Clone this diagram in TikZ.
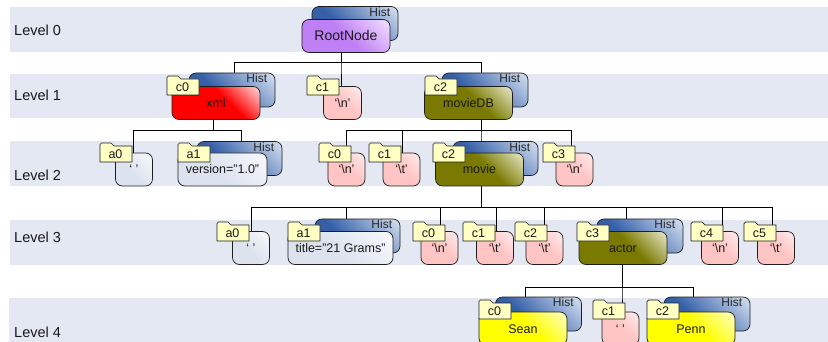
\documentclass[tikz,border=0pt]{standalone}
\usepackage{fontspec}
\setmainfont{Liberation Sans}
\usetikzlibrary{calc}
\pgfdeclarelayer{bands}
\pgfdeclarelayer{wires}
\pgfsetlayers{bands,wires,main}
\definecolor{bandc}{HTML}{E3E8F2}
\definecolor{tagc}{HTML}{FFFFC4}
\definecolor{histb}{HTML}{3560A8}
\definecolor{histh}{HTML}{E2EAF7}
\definecolor{pinkb}{HTML}{FFC4C4}
\definecolor{pinkh}{HTML}{FFF0F0}
\definecolor{attrb}{HTML}{DCE2EE}
\definecolor{attrh}{HTML}{FAFBFD}
\definecolor{oliveb}{HTML}{7A7A00}
\definecolor{oliveh}{HTML}{F4F4E0}
\definecolor{redb}{HTML}{FF0000}
\definecolor{redh}{HTML}{FFF4F4}
\definecolor{yelb}{HTML}{FFFF00}
\definecolor{yelh}{HTML}{FFFFD8}
\definecolor{purb}{HTML}{C080F5}
\definecolor{purh}{HTML}{F6EAFF}
\definecolor{edgec}{HTML}{1E1E1E}
\newcommand{\mkshade}[4]{\pgfdeclareverticalshading{#1}{100bp}{color(0bp)=(#2); color(#4bp)=(#2); color(88bp)=(#3); color(100bp)=(#3)}}
\mkshade{shHist}{histb}{histh}{40}
\mkshade{shPink}{pinkb}{pinkh}{52}
\mkshade{shAttr}{attrb}{attrh}{45}
\mkshade{shOlive}{oliveb}{oliveh}{56}
\mkshade{shRed}{redb}{redh}{58}
\mkshade{shYel}{yelb}{yelh}{55}
\mkshade{shPur}{purb}{purh}{50}
\tikzset{
  hlfill/.style={shade, shading=#1, shading angle=-45},
  box/.style={draw=edgec, line width=0.7pt, rounded corners=7pt, inner sep=0pt,
    text height=9pt, text depth=0pt, font=\fontsize{12.5}{14}\selectfont, text=black!90},
  histback/.style={box, hlfill=shHist, minimum height=34pt},
  histlabel/.style={anchor=north east, inner sep=0pt, font=\fontsize{12}{14}\selectfont, text=black!85},
  bigbox/.style={box, minimum width=88pt, minimum height=33pt},
  smallbox/.style={box, minimum width=37pt, minimum height=33pt},
  tagshape/.style={draw=edgec, line width=0.7pt, fill=tagc, line join=round},
  tagtext/.style={inner sep=0pt, font=\fontsize{12.5}{14}\selectfont, text=black!90},
  levellabel/.style={anchor=west, inner sep=0pt, font=\fontsize{14.5}{16}\selectfont, text=black!90},
  band/.style={fill=bandc, draw=none},
  conn/.style={draw=black, line width=1pt}
}
\newcommand{\histbox}[4]{%
  \node[histback, minimum width=#4pt] (#1) at (#2,#3) {};
  \node[histlabel] (#1t) at ($(#1.north east)+(-8,1)$) {Hist};}
\newcommand{\foldertag}[4]{%
  \filldraw[tagshape] (#2,#3+19) -- (#2,#3+1.5) -- (#2+1.5,#3) -- (#2+11,#3) -- (#2+14,#3+3) -- (#2+32,#3+3) -- (#2+32,#3+19) -- cycle;
  \node[tagtext] (#1) at (#2+15.5,#3+11.5) {#4};}
\begin{document}
\begin{tikzpicture}[x=1pt,y=-1pt]
\useasboundingbox (0,0) rectangle (828,342);
% bands
\begin{pgfonlayer}{bands}
  \fill[band] (10,7) rectangle (828,52);
  \fill[band] (10,74) rectangle (828,118);
  \fill[band] (10,141) rectangle (828,186);
  \fill[band] (10,220) rectangle (828,265);
  \fill[band] (9,298) rectangle (828,350);
\end{pgfonlayer}
\node[levellabel] (lv0) at (14,30) {Level 0};
\node[levellabel] (lv1) at (14,95) {Level 1};
\node[levellabel] (lv2) at (14,175) {Level 2};
\node[levellabel] (lv3) at (14,237) {Level 3};
\node[levellabel] (lv4) at (14,332) {Level 4};

% Level 0
\histbox{rootH}{355}{23.5}{86}
\node[bigbox, hlfill=shPur, font=\fontsize{14}{16}\selectfont, text height=10pt] (root) at (346,36) {RootNode};

% Level 1
\histbox{xmlH}{232}{90}{86}
\node[bigbox, hlfill=shRed] (xml) at (216,103) {xml};
\foldertag{xmlT}{167}{76}{c0}
\node[smallbox, minimum width=38pt, hlfill=shPink] (l1c1) at (342.5,103) {‘\textbackslash n’};
\foldertag{l1c1T}{307}{76}{c1}
\histbox{mdbH}{485}{90}{86}
\node[bigbox, hlfill=shOlive] (mdb) at (468.5,103) {movieDB};
\foldertag{mdbT}{425}{76}{c2}

% Level 2
\node[smallbox, hlfill=shAttr] (l2a0) at (134,169.5) {‘ ’};
\foldertag{l2a0T}{100}{143}{a0}
\histbox{l2a1H}{239.5}{158.5}{85}
\node[bigbox, minimum width=89pt, hlfill=shAttr] (l2a1) at (222.5,169.5) {version="1.0"};
\foldertag{l2a1T}{178}{143}{a1}
\node[smallbox, hlfill=shPink] (l2c0) at (346.5,169.5) {‘\textbackslash n’};
\foldertag{l2c0T}{319}{143}{c0}
\node[smallbox, hlfill=shPink] (l2c1) at (401.5,169.5) {‘\textbackslash t’};
\foldertag{l2c1T}{369}{143}{c1}
\histbox{movieH}{495.5}{158.5}{85}
\node[bigbox, hlfill=shOlive] (movie) at (479.5,169.5) {movie};
\foldertag{movieT}{433}{143}{c2}
\node[smallbox, hlfill=shPink] (l2c3) at (574.5,169.5) {‘\textbackslash n’};
\foldertag{l2c3T}{543}{143}{c3}

% Level 3
\node[smallbox, hlfill=shAttr] (l3a0) at (251,248) {‘ ’};
\foldertag{l3a0T}{217}{222}{a0}
\histbox{l3a1H}{357.5}{236}{85}
\node[bigbox, minimum width=105pt, hlfill=shAttr] (l3a1) at (340.5,248) {title="21 Grams"};
\foldertag{l3a1T}{288}{222}{a1}
\node[smallbox, hlfill=shPink] (l3c0) at (439.5,248) {‘\textbackslash n’};
\foldertag{l3c0T}{413}{222}{c0}
\node[smallbox, hlfill=shPink] (l3c1) at (495,248) {‘\textbackslash t’};
\foldertag{l3c1T}{463}{222}{c1}
\node[smallbox, hlfill=shPink] (l3c2) at (544.5,248) {‘\textbackslash t’};
\foldertag{l3c2T}{515}{222}{c2}
\histbox{actorH}{640}{236}{86}
\node[bigbox, hlfill=shOlive] (actor) at (623,248) {actor};
\foldertag{actorT}{577}{222}{c3}
\node[smallbox, hlfill=shPink] (l3c4) at (720,248) {‘\textbackslash n’};
\foldertag{l3c4T}{691}{222}{c4}
\node[smallbox, hlfill=shPink] (l3c5) at (776,248) {‘\textbackslash t’};
\foldertag{l3c5T}{744}{222}{c5}

% Level 4
\histbox{seanH}{538.5}{314}{86}
\node[bigbox, hlfill=shYel] (sean) at (523,328.5) {Sean};
\foldertag{seanT}{479}{300}{c0}
\node[smallbox, hlfill=shPink] (l4c1) at (620.5,328.5) {‘ ’};
\foldertag{l4c1T}{593}{300}{c1}
\histbox{pennH}{707}{314}{86}
\node[bigbox, hlfill=shYel] (penn) at (691,328.5) {Penn};
\foldertag{pennT}{647}{300}{c2}

% connectors
\begin{pgfonlayer}{wires}
  \draw[conn] ([xshift=-5pt]root.south) -- ++(0,9.5) -| ([xshift=18pt]xml.north);
  \draw[conn] ([xshift=-5pt]root.south) -- ++(0,9.5) -| ([xshift=-1.5pt]l1c1.north);
  \draw[conn] ([xshift=-5pt]root.south) -- ++(0,9.5) -| ([xshift=12.5pt]mdb.north);

  \draw[conn] ([xshift=-3pt]xml.south) -- ++(0,10.5) -| ([xshift=-1pt]l2a0.north);
  \draw[conn] ([xshift=-3pt]xml.south) -- ++(0,10.5) -| ([xshift=18.5pt]l2a1.north);

  \draw[conn] ([xshift=12.5pt]mdb.south) -- ++(0,10.5) -| ([xshift=-0.5pt]l2c0.north);
  \draw[conn] ([xshift=12.5pt]mdb.south) -- ++(0,10.5) -| ([xshift=0.5pt]l2c1.north);
  \draw[conn] ([xshift=12.5pt]mdb.south) -- ++(0,10.5) -| ([xshift=1.5pt]movie.north);
  \draw[conn] ([xshift=12.5pt]mdb.south) -- ++(0,10.5) -| ([xshift=-3.5pt]l2c3.north);

  \draw[conn] ([xshift=1.5pt]movie.south) -- ++(0,21) -| (l3a0.north);
  \draw[conn] ([xshift=1.5pt]movie.south) -- ++(0,21) -| ([xshift=5.5pt]l3a1.north);
  \draw[conn] ([xshift=1.5pt]movie.south) -- ++(0,21) -| ([xshift=0.5pt]l3c0.north);
  \draw[conn] ([xshift=1.5pt]movie.south) -- ++(0,21) -| ([xshift=1pt]l3c1.north);
  \draw[conn] ([xshift=1.5pt]movie.south) -- ++(0,21) -| ([xshift=-0.5pt]l3c2.north);
  \draw[conn] ([xshift=1.5pt]movie.south) -- ++(0,21) -| ([xshift=3pt]actor.north);
  \draw[conn] ([xshift=1.5pt]movie.south) -- ++(0,21) -| ([xshift=2pt]l3c4.north);
  \draw[conn] ([xshift=1.5pt]movie.south) -- ++(0,21) -| ([xshift=-4pt]l3c5.north);

  \draw[conn] ([xshift=-1pt]actor.south) -- ++(0,22.5) -| ([xshift=2pt]sean.north);
  \draw[conn] ([xshift=-1pt]actor.south) -- ++(0,22.5) -| ([xshift=1.5pt]l4c1.north);
  \draw[conn] ([xshift=-1pt]actor.south) -- ++(0,22.5) -| ([xshift=2pt]penn.north);
\end{pgfonlayer}
\end{tikzpicture}
\end{document}
